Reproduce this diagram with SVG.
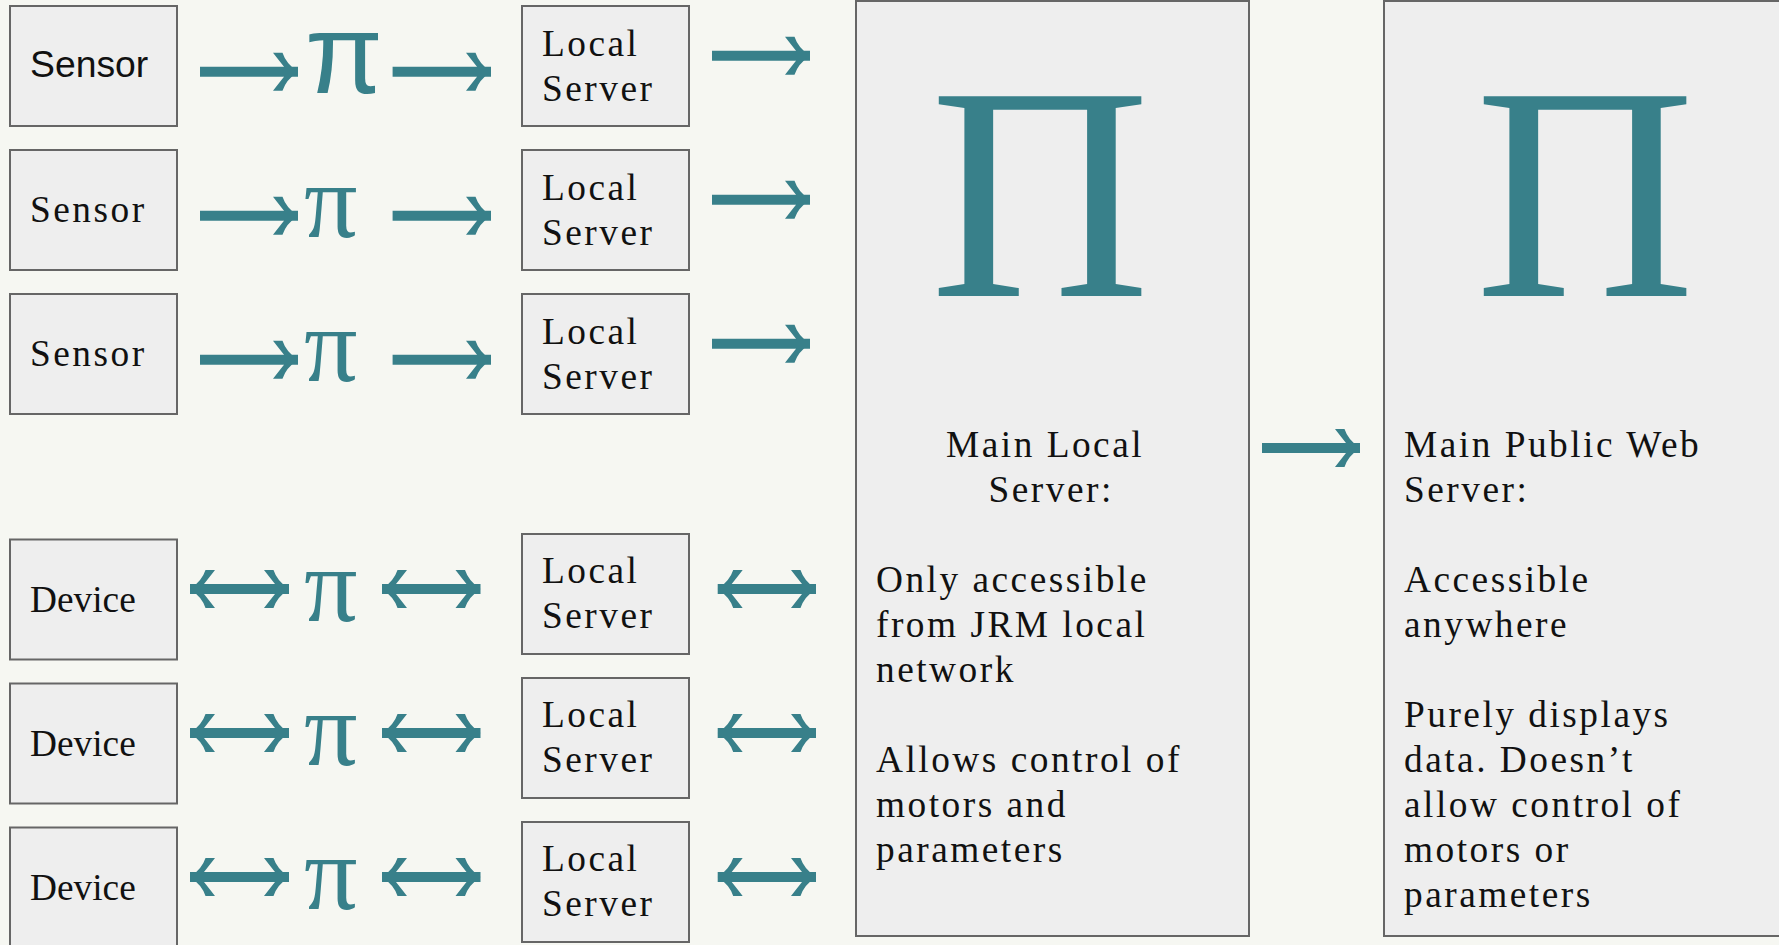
<svg xmlns="http://www.w3.org/2000/svg" width="1779" height="945" viewBox="0 0 1779 945">
<style>
.box{fill:#eeeeee;stroke:#666666;stroke-width:2}
.t{font-family:"Liberation Serif","Times New Roman",serif;font-size:37.33px;fill:#111;letter-spacing:2.5px}
.s{font-family:"Liberation Sans",Arial,sans-serif;font-size:37.33px;fill:#111}
.pi{font-family:"Liberation Serif",serif;font-size:106px;fill:#38808a}
.pis{font-family:"Liberation Sans",sans-serif;font-size:113px;fill:#38808a}
.big{font-family:"Liberation Serif",serif;font-size:305px;fill:#38808a}
.a{stroke:#38808a;stroke-width:10;fill:none}
</style>
<defs>
<marker id="h" markerUnits="userSpaceOnUse" markerWidth="30" markerHeight="42" refX="26" refY="21" orient="auto-start-reverse" viewBox="0 0 30 42">
<path d="M26,21Q14,13 10.500,2L1,2Q8,11 12,16L12,26Q8,31 1,40L10.500,40Q14,29 26,21Z" fill="#38808a"/>
</marker>
</defs>
<rect width="1779" height="945" fill="#f6f7f2"/>
<g id="connectors">
<path class="a" marker-end="url(#h)" d="M200,71.700H298"/>
<path class="a" marker-end="url(#h)" d="M392.600,71.700H491"/>
<path class="a" marker-end="url(#h)" d="M712,55.700H810"/>
<path class="a" marker-end="url(#h)" d="M200,215.700H298"/>
<path class="a" marker-end="url(#h)" d="M392.600,215.700H491"/>
<path class="a" marker-end="url(#h)" d="M712,199.700H810"/>
<path class="a" marker-end="url(#h)" d="M200,359.700H298"/>
<path class="a" marker-end="url(#h)" d="M392.600,359.700H491"/>
<path class="a" marker-end="url(#h)" d="M712,343.700H810"/>
<path class="a" marker-start="url(#h)" marker-end="url(#h)" d="M190,589H289"/>
<path class="a" marker-start="url(#h)" marker-end="url(#h)" d="M382,589H480.500"/>
<path class="a" marker-start="url(#h)" marker-end="url(#h)" d="M717.700,589H816"/>
<path class="a" marker-start="url(#h)" marker-end="url(#h)" d="M190,733H289"/>
<path class="a" marker-start="url(#h)" marker-end="url(#h)" d="M382,733H480.500"/>
<path class="a" marker-start="url(#h)" marker-end="url(#h)" d="M717.700,733H816"/>
<path class="a" marker-start="url(#h)" marker-end="url(#h)" d="M190,877H289"/>
<path class="a" marker-start="url(#h)" marker-end="url(#h)" d="M382,877H480.500"/>
<path class="a" marker-start="url(#h)" marker-end="url(#h)" d="M717.700,877H816"/>
<path class="a" marker-end="url(#h)" d="M1262,448H1360"/>
</g>
<g id="sensor1"><rect class="box" x="10" y="6" width="167" height="120"/><text class="s" x="30" y="77">Sensor</text></g>
<g id="sensor2"><rect class="box" x="10" y="150" width="167" height="120"/><text class="t" x="30" y="221.700">Sensor</text></g>
<g id="sensor3"><rect class="box" x="10" y="294" width="167" height="120"/><text class="t" x="30" y="365.700">Sensor</text></g>
<g id="device1"><rect class="box" x="10" y="539.500" width="167" height="120"/><text class="t" style="letter-spacing:0" x="30" y="611.700">Device</text></g>
<g id="device2"><rect class="box" x="10" y="683.500" width="167" height="120"/><text class="t" style="letter-spacing:0" x="30" y="755.700">Device</text></g>
<g id="device3"><rect class="box" x="10" y="827.500" width="167" height="120"/><text class="t" style="letter-spacing:0" x="30" y="899.700">Device</text></g>
<g id="local1"><rect class="box" x="522" y="6" width="167" height="120"/><text class="t" x="542" y="55.700">Local</text><text class="t" x="542" y="100.700">Server</text></g>
<g id="local2"><rect class="box" x="522" y="150" width="167" height="120"/><text class="t" x="542" y="199.700">Local</text><text class="t" x="542" y="244.700">Server</text></g>
<g id="local3"><rect class="box" x="522" y="294" width="167" height="120"/><text class="t" x="542" y="343.700">Local</text><text class="t" x="542" y="388.700">Server</text></g>
<g id="local4"><rect class="box" x="522" y="534" width="167" height="120"/><text class="t" x="542" y="583">Local</text><text class="t" x="542" y="628">Server</text></g>
<g id="local5"><rect class="box" x="522" y="678" width="167" height="120"/><text class="t" x="542" y="727">Local</text><text class="t" x="542" y="772">Server</text></g>
<g id="local6"><rect class="box" x="522" y="822" width="167" height="120"/><text class="t" x="542" y="871">Local</text><text class="t" x="542" y="916">Server</text></g>
<g id="pis"><text class="pis" x="305" y="92.700">π</text>
<text class="pi" x="304" y="237">π</text><text class="pi" x="304" y="381">π</text><text class="pi" x="304" y="621">π</text><text class="pi" x="304" y="765">π</text><text class="pi" x="304" y="909">π</text></g>
<g id="main-local"><rect class="box" x="856" y="1" width="393" height="935"/>
<text class="big" x="930" y="296">Π</text>
<text class="t" x="946" y="457">Main Local</text><text class="t" x="988.500" y="502">Server:</text>
<text class="t" x="876" y="592">Only accessible</text><text class="t" x="876" y="637">from JRM local</text><text class="t" x="876" y="682">network</text>
<text class="t" x="876" y="772">Allows control of</text><text class="t" x="876" y="817">motors and</text><text class="t" x="876" y="862">parameters</text></g>
<g id="main-public"><rect class="box" x="1384" y="1" width="396" height="935"/>
<text class="big" x="1475" y="296">Π</text>
<text class="t" x="1404" y="457">Main Public Web</text><text class="t" x="1404" y="502">Server:</text>
<text class="t" x="1404" y="592">Accessible</text><text class="t" x="1404" y="637">anywhere</text>
<text class="t" x="1404" y="727">Purely displays</text><text class="t" x="1404" y="772">data. Doesn’t</text><text class="t" x="1404" y="817">allow control of</text><text class="t" x="1404" y="862">motors or</text><text class="t" x="1404" y="907">parameters</text></g>
</svg>
